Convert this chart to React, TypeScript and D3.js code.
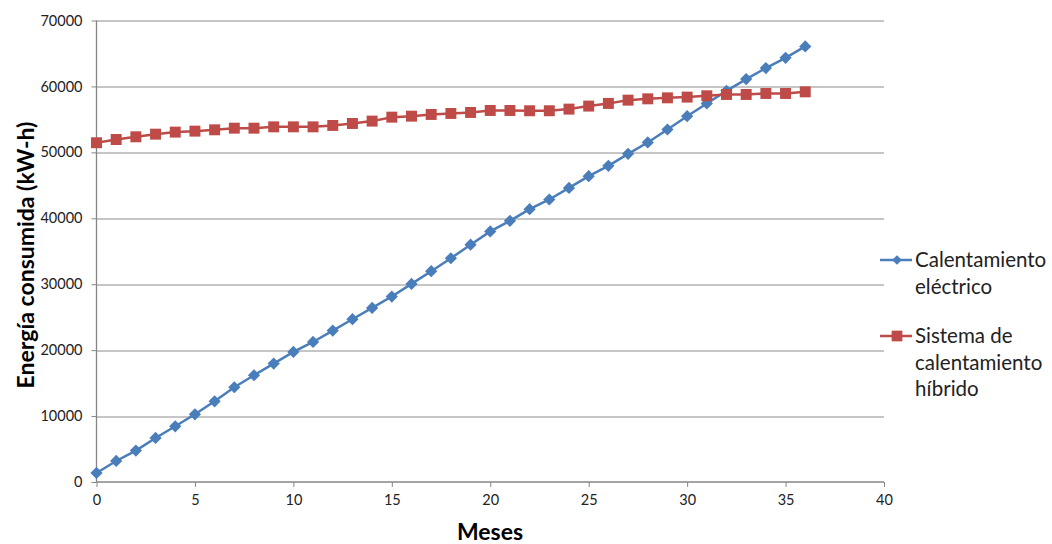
import React, { useEffect, useRef } from 'react'
import * as d3 from 'd3'

const months = d3.range(0, 37)

const electrico = [
  1370, 3190, 4760, 6680, 8450, 10270, 12240, 14370, 16190, 17960, 19730, 21240,
  22970, 24690, 26400, 28130, 30050, 31970, 33940, 36000, 38010, 39610, 41380,
  42850, 44610, 46390, 47950, 49770, 51500, 53470, 55490, 57420, 59330, 61110,
  62780, 64340, 66070,
]

const hibrido = [
  51460, 51950, 52360, 52760, 53070, 53220, 53420, 53670, 53670, 53870, 53870,
  53870, 54080, 54380, 54740, 55340, 55490, 55750, 55900, 56050, 56350, 56350,
  56310, 56310, 56560, 57020, 57420, 57920, 58120, 58270, 58380, 58580, 58780,
  58780, 58930, 58930, 59180,
]

const xTicks = [0, 5, 10, 15, 20, 25, 30, 35, 40]
const yTicks = [0, 10000, 20000, 30000, 40000, 50000, 60000, 70000]

const legendItems = [
  { lines: ['Calentamiento', 'eléctrico'], color: '#4A7EBB', marker: 'diamond' },
  { lines: ['Sistema de', 'calentamiento', 'híbrido'], color: '#BE4B48', marker: 'square' },
]

const FONT = 'Lato, "Open Sans", sans-serif'

export default function App() {
  const svgRef = useRef<SVGSVGElement>(null)

  useEffect(() => {
    if (!svgRef.current) return
    const svg = d3.select(svgRef.current)
    svg.selectAll('*').remove()

    const width = 1052
    const height = 544
    const margin = { top: 20.5, right: 168, bottom: 62, left: 96.5 }
    const innerWidth = width - margin.left - margin.right
    const innerHeight = height - margin.top - margin.bottom

    svg.append('rect').attr('width', width).attr('height', height).attr('fill', '#fff')

    const g = svg.append('g').attr('transform', `translate(${margin.left},${margin.top})`)

    const x = d3.scaleLinear().domain([0, 40]).range([0, innerWidth])
    const y = d3.scaleLinear().domain([0, 70000]).range([innerHeight, 0])

    // gridlines
    g.append('g')
      .selectAll('line')
      .data(yTicks.filter((d) => d > 0))
      .join('line')
      .attr('x1', 0)
      .attr('x2', innerWidth)
      .attr('y1', (d) => Math.round(y(d)) + 0.5)
      .attr('y2', (d) => Math.round(y(d)) + 0.5)
      .attr('stroke', '#8c8c8c')
      .attr('stroke-width', 1)

    const yAxis = g
      .append('g')
      .call(d3.axisLeft(y).tickValues(yTicks).tickSize(5).tickPadding(9).tickFormat(d3.format('d')))
    const xAxis = g
      .append('g')
      .attr('transform', `translate(0,${innerHeight})`)
      .call(d3.axisBottom(x).tickValues(xTicks).tickSize(5).tickPadding(8).tickFormat(d3.format('d')))

    for (const ax of [xAxis, yAxis]) {
      ax.select('.domain').attr('stroke', '#868686').attr('stroke-width', 1.3)
      ax.selectAll('.tick line').attr('stroke', '#868686')
      ax.selectAll('text')
        .attr('font-family', FONT)
        .attr('font-size', '14.5px')
        .attr('fill', '#222')
    }
    xAxis.select('.domain').attr('d', `M0,0H${innerWidth}`)
    yAxis.select('.domain').attr('d', `M0,${innerHeight}V0`)

    const series = [
      { values: electrico, color: '#4A7EBB', marker: 'diamond' },
      { values: hibrido, color: '#BE4B48', marker: 'square' },
    ]

    const line = d3
      .line<number>()
      .x((_, i) => x(months[i]))
      .y((d) => y(d))

    series.forEach((s) => {
      g.append('path')
        .datum(s.values)
        .attr('fill', 'none')
        .attr('stroke', s.color)
        .attr('stroke-width', 2.5)
        .attr('d', line)

      const sym = d3
        .symbol()
        .type(s.marker === 'diamond' ? d3.symbolDiamond2 : d3.symbolSquare)
        .size(s.marker === 'diamond' ? 95 : 120)

      g.selectAll(`.m-${s.marker}`)
        .data(s.values)
        .join('path')
        .attr('class', `m-${s.marker}`)
        .attr('transform', (d, i) => `translate(${x(months[i])},${y(d)})`)
        .attr('d', sym)
        .attr('fill', s.color)
    })

    // axis titles
    svg.append('text')
      .attr('x', 490)
      .attr('y', 540)
      .attr('text-anchor', 'middle')
      .attr('font-family', FONT)
      .attr('font-weight', 'bold')
      .attr('font-size', '23px')
      .attr('fill', '#000')
      .text('Meses')

    svg.append('text')
      .attr('transform', `translate(34,${255}) rotate(-90)`)
      .attr('text-anchor', 'middle')
      .attr('font-family', FONT)
      .attr('font-weight', 'bold')
      .attr('font-size', '23px')
      .attr('fill', '#000')
      .text('Energía consumida (kW-h)')

    // legend
    const legendTops = [260, 336]
    legendItems.forEach((item, k) => {
      const lg = svg.append('g').attr('transform', `translate(880,${legendTops[k]})`)
      lg.append('line')
        .attr('x1', 0)
        .attr('x2', 32)
        .attr('y1', 0)
        .attr('y2', 0)
        .attr('stroke', item.color)
        .attr('stroke-width', 2.5)
      lg.append('path')
        .attr('transform', 'translate(17,0)')
        .attr(
          'd',
          d3.symbol().type(item.marker === 'diamond' ? d3.symbolDiamond2 : d3.symbolSquare).size(item.marker === 'diamond' ? 60 : 115)
        )
        .attr('fill', item.color)
      item.lines.forEach((t, j) => {
        lg.append('text')
          .attr('x', 35)
          .attr('y', 7 + j * 26.5)
          .attr('font-family', FONT)
          .attr('font-size', '20.5px')
          .attr('fill', '#222')
          .text(t)
      })
    })
  }, [])

  return (
    <svg
      ref={svgRef}
      width={1052}
      height={544}
      style={{ position: 'absolute', left: 0, top: 0 }}
    />
  )
}
